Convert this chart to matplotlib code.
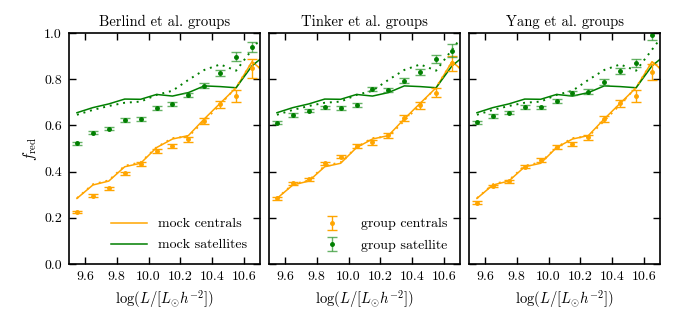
import numpy as np
import matplotlib
matplotlib.use("Agg")
import matplotlib.pyplot as plt

plt.rcParams['font.family'] = ['cmr10', 'DejaVu Serif']
plt.rcParams['mathtext.fontset'] = 'cm'
plt.rcParams['axes.unicode_minus'] = False
plt.rcParams['axes.formatter.use_mathtext'] = True

titles = ["Berlind et al. groups", "Tinker et al. groups", "Yang et al. groups"]

x_pts = [9.55, 9.65, 9.75, 9.85, 9.95, 10.05, 10.15, 10.25, 10.35, 10.45, 10.55, 10.65]
x_line = x_pts + [10.75]

mock_cen = [0.284, 0.342, 0.359, 0.421, 0.436, 0.504, 0.541, 0.556, 0.628, 0.696, 0.763, 0.876, 0.818]
mock_sat = [0.655, 0.677, 0.693, 0.714, 0.713, 0.734, 0.727, 0.742, 0.771, 0.768, 0.763, 0.858, 0.914]
mock_cen_dot = [0.285, 0.345, 0.362, 0.425, 0.440, 0.505, 0.545, 0.552, 0.620, 0.690, 0.765, 0.875, 0.820]
mock_sat_dot = [0.646, 0.667, 0.684, 0.698, 0.703, 0.732, 0.750, 0.797, 0.840, 0.864, 0.837, 0.928, 1.02]

grp_cen = [
    [0.225, 0.296, 0.328, 0.392, 0.433, 0.489, 0.511, 0.540, 0.620, 0.691, 0.727, 0.847],
    [0.284, 0.349, 0.367, 0.436, 0.465, 0.511, 0.527, 0.557, 0.631, 0.688, 0.742, 0.869],
    [0.266, 0.338, 0.358, 0.421, 0.450, 0.505, 0.519, 0.548, 0.628, 0.696, 0.727, 0.832],
]
grp_cen_err = [
    [0.005, 0.006, 0.007, 0.007, 0.008, 0.009, 0.010, 0.011, 0.012, 0.015, 0.025, 0.040],
    [0.005, 0.006, 0.007, 0.007, 0.008, 0.009, 0.010, 0.011, 0.012, 0.015, 0.020, 0.032],
    [0.005, 0.006, 0.007, 0.007, 0.008, 0.009, 0.010, 0.011, 0.012, 0.015, 0.025, 0.035],
]
grp_sat = [
    [0.522, 0.569, 0.586, 0.623, 0.629, 0.674, 0.691, 0.732, 0.772, 0.828, 0.897, 0.941],
    [0.612, 0.645, 0.664, 0.678, 0.675, 0.688, 0.758, 0.753, 0.794, 0.830, 0.887, 0.923],
    [0.613, 0.641, 0.655, 0.680, 0.678, 0.704, 0.742, 0.746, 0.788, 0.837, 0.871, 0.991],
]
grp_sat_err = [
    [0.007, 0.008, 0.007, 0.007, 0.008, 0.009, 0.009, 0.010, 0.011, 0.013, 0.020, 0.022],
    [0.006, 0.007, 0.007, 0.008, 0.008, 0.009, 0.009, 0.010, 0.011, 0.013, 0.018, 0.028],
    [0.006, 0.007, 0.007, 0.008, 0.008, 0.009, 0.009, 0.010, 0.011, 0.013, 0.018, 0.020],
]

ORANGE = '#FFA500'
GREEN = '#007F00'

fig = plt.figure(figsize=(6.95, 3.30), dpi=100)
lefts = [69/695, 269/695, 469/695]
axes = []
for i in range(3):
    ax = fig.add_axes([lefts[i], 66/330, 191/695, 231/330])
    axes.append(ax)
    l1, = ax.plot(x_line, mock_cen, color=ORANGE, lw=1.1, label='mock centrals')
    l2, = ax.plot(x_line, mock_sat, color=GREEN, lw=1.1, label='mock satellites')
    ax.plot(x_line, mock_cen_dot, color=ORANGE, lw=1.4, ls=(0, (1, 2.5)))
    ax.plot(x_line, mock_sat_dot, color=GREEN, lw=1.4, ls=(0, (1, 2.5)))
    e1 = ax.errorbar(x_pts, grp_cen[i], yerr=grp_cen_err[i], fmt='o', ms=2.5,
                     color=ORANGE, ecolor=ORANGE, elinewidth=1.0, capsize=3.5,
                     capthick=1.0, label='group centrals')
    e2 = ax.errorbar(x_pts, grp_sat[i], yerr=grp_sat_err[i], fmt='o', ms=2.5,
                     color=GREEN, ecolor=(0.2, 0.6, 0.2, 0.75), elinewidth=1.0, capsize=3.5,
                     capthick=1.0, label='group satellite')
    ax.set_xlim(9.5, 10.7)
    ax.set_ylim(0.0, 1.0)
    ax.set_xticks([9.6, 9.8, 10.0, 10.2, 10.4, 10.6])
    ax.set_xticklabels(['9.6', '9.8', '10.0', '10.2', '10.4', '10.6'])
    ax.set_yticks([0.0, 0.2, 0.4, 0.6, 0.8, 1.0])
    ax.tick_params(direction='in', top=True, right=True, length=5, width=1.0,
                   labelsize=10, pad=5)
    for s in ax.spines.values():
        s.set_linewidth(1.2)
    ax.set_title(titles[i], fontsize=10.5, pad=5)
    ax.set_xlabel(r'$\log(L/[L_{\odot}h^{-2}])$', fontsize=10.5)
    if i == 0:
        ax.set_yticklabels(['0.0', '0.2', '0.4', '0.6', '0.8', '1.0'])
        ax.set_ylabel(r'$f_{\rm red}$', fontsize=11)
        ax.legend(handles=[l1, l2], loc='lower right', frameon=False, fontsize=10,
                  handlelength=2.6, borderaxespad=0.5, labelspacing=0.6)
    else:
        ax.set_yticklabels([])
    if i == 1:
        ax.legend(handles=[e1, e2], loc='lower right', frameon=False, fontsize=10,
                  handlelength=2.6, borderaxespad=0.5, labelspacing=0.6)

fig.savefig('out.png', dpi=100)
